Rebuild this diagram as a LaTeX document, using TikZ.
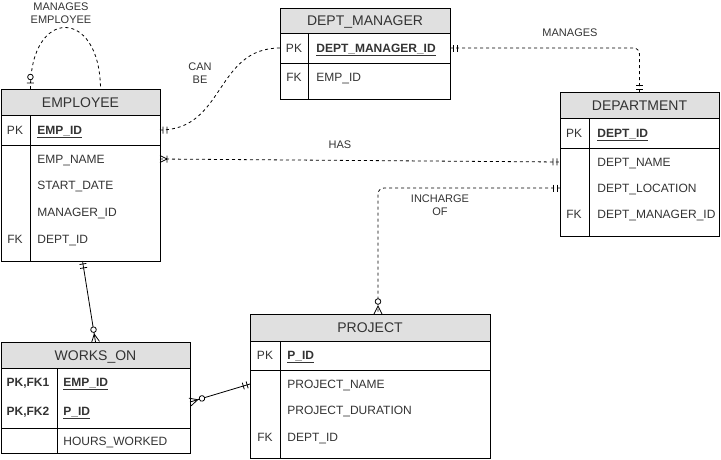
\documentclass[tikz,border=0pt]{standalone}
\usepackage{fontspec}
\setmainfont{Liberation Sans}
\usetikzlibrary{positioning,decorations.markings}
\definecolor{hdrgray}{HTML}{E0E0E0}
\definecolor{txtgray}{HTML}{333333}
\newcommand{\crowone}{\draw[solid] (-3pt,-3.5pt) -- (-3pt,3.5pt) (-7pt,-3.5pt) -- (-7pt,3.5pt);}
\newcommand{\crowzeroone}{\draw[solid] (-6pt,-3.5pt) -- (-6pt,3.5pt); \draw[solid,fill=white] (-12pt,0pt) circle (2.8pt);}
\newcommand{\crowonemany}{\draw[solid] (-7pt,0pt) -- (0pt,3.5pt) (-7pt,0pt) -- (0pt,-3.5pt) (-7pt,-3.5pt) -- (-7pt,3.5pt);}
\newcommand{\crowzeromany}{\draw[solid] (-8pt,0pt) -- (0pt,4pt) (-8pt,0pt) -- (0pt,-4pt); \draw[solid,fill=white] (-12.5pt,0pt) circle (2.8pt);}
\begin{document}
\begin{tikzpicture}[x=1pt,y=-1pt,line width=0.8pt,
  every node/.style={text=txtgray},
  hdr/.style={draw, rectangle, fill=hdrgray, outer sep=0pt, anchor=north west, text height=10pt, text depth=0pt, font=\fontsize{14}{16}\selectfont},
  tbl/.style={draw, rectangle, outer sep=0pt, anchor=north west},
  fld/.style={anchor=west, inner sep=0pt, text height=8.6pt, text depth=0pt, font=\fontsize{12}{14}\selectfont},
  key/.style={inner sep=0pt, text height=8.6pt, text depth=0pt, font=\fontsize{12}{14}\selectfont},
  lbl/.style={align=center, inner sep=0pt, font=\fontsize{11}{13}\selectfont},
  rel/.style={dash pattern=on 3pt off 3pt},
  erstart/.style={postaction={decorate,decoration={markings,mark=at position 0 with {\begin{scope}[xscale=-1]#1\end{scope}}}}},
  erend/.style={postaction={decorate,decoration={markings,mark=at position 1 with {#1}}}}]
\useasboundingbox (0,0) rectangle (721,459);
\node[hdr, minimum width=159pt, minimum height=26pt] (emp) at (1,89) {EMPLOYEE};
\node[tbl, minimum width=159pt, minimum height=30pt] (empk) at (1,115) {};
\node[tbl, minimum width=159pt, minimum height=116pt] (empbody) at (1,145) {};
\draw (30,115) -- (30,261);
\node[key] (emppk) at (15,130) {PK};
\node[fld] (empid) at (37,130) {\textbf{\underline{EMP\_ID}}};
\node[fld] (empname) at (37,159) {EMP\_NAME};
\node[fld] (empstart) at (37,185) {START\_DATE};
\node[fld] (empmgr) at (37,212) {MANAGER\_ID};
\node[key] (empfk) at (15,239) {FK};
\node[fld] (empdept) at (37,239) {DEPT\_ID};
\node[hdr, minimum width=170pt, minimum height=25pt] (dm) at (280,8) {DEPT\_MANAGER};
\node[tbl, minimum width=170pt, minimum height=30pt] (dmk) at (280,33) {};
\node[tbl, minimum width=170pt, minimum height=36pt] (dmbody) at (280,63) {};
\draw (308,33) -- (308,99);
\node[key] (dmpk) at (294,48) {PK};
\node[fld] (dmid) at (316,48) {\textbf{\underline{DEPT\_MANAGER\_ID}}};
\node[key] (dmfk) at (294,77) {FK};
\node[fld] (dmemp) at (316,77) {EMP\_ID};
\node[hdr, minimum width=159pt, minimum height=26pt] (dept) at (560,92) {DEPARTMENT};
\node[tbl, minimum width=159pt, minimum height=30pt] (deptk) at (560,118) {};
\node[tbl, minimum width=159pt, minimum height=88pt] (deptbody) at (560,148) {};
\draw (589,118) -- (589,236);
\node[key] (deptpk) at (574,133) {PK};
\node[fld] (deptid) at (597,133) {\textbf{\underline{DEPT\_ID}}};
\node[fld] (deptname) at (597,162) {DEPT\_NAME};
\node[fld] (deptloc) at (597,188) {DEPT\_LOCATION};
\node[key] (deptfk) at (574,214) {FK};
\node[fld] (deptmgr) at (597,214) {DEPT\_MANAGER\_ID};
\node[hdr, minimum width=240pt, minimum height=27pt] (proj) at (250,314) {PROJECT};
\node[tbl, minimum width=240pt, minimum height=29pt] (projk) at (250,341) {};
\node[tbl, minimum width=240pt, minimum height=88pt] (projbody) at (250,370) {};
\draw (280,341) -- (280,458);
\node[key] (projpk) at (265,355) {PK};
\node[fld] (projid) at (287,355) {\textbf{\underline{P\_ID}}};
\node[fld] (projname) at (287,384) {PROJECT\_NAME};
\node[fld] (projdur) at (287,410) {PROJECT\_DURATION};
\node[key] (projfk) at (265,437) {FK};
\node[fld] (projdept) at (287,437) {DEPT\_ID};
\node[hdr, minimum width=189pt, minimum height=26pt] (wo) at (1,342) {WORKS\_ON};
\node[tbl, minimum width=189pt, minimum height=60pt] (wopk) at (1,368) {};
\node[tbl, minimum width=189pt, minimum height=25pt] (wobody) at (1,428) {};
\draw (57,368) -- (57,453);
\node[key] (wokey1) at (28,382) {\textbf{PK,FK1}};
\node[fld] (woemp) at (63,382) {\textbf{\underline{EMP\_ID}}};
\node[key] (wokey2) at (28,411) {\textbf{PK,FK2}};
\node[fld] (woproj) at (63,411) {\textbf{\underline{P\_ID}}};
\node[fld] (wohours) at (63,441) {HOURS\_WORKED};
\draw[rel, erstart=\crowzeroone, erend=\crowzeromany] ([xshift=-50pt]emp.north) .. controls (30,7) and (100,7) .. ([xshift=20pt]emp.north);
\draw[rel, erstart=\crowone, erend=\crowzeroone] (empk.east) .. controls (225,130) and (215,48) .. (dmk.west);
\draw[rel, rounded corners=6pt, erstart=\crowone, erend=\crowone] (dmk.east) -| (dept.north);
\draw[rel, erstart=\crowonemany, erend=\crowone] (empbody.east |- empname) -- (deptbody.west |- deptname);
\draw[rel, rounded corners=6pt, erstart=\crowone, erend=\crowzeromany] (deptbody.west |- deptloc) -| ([xshift=8pt]proj.north);
\draw[erstart=\crowone, erend=\crowzeromany] ([xshift=2pt]empbody.south) -- (wo.north);
\draw[erstart=\crowzeromany, erend=\crowone] ([yshift=-4pt]wopk.east) -- (projbody.west |- projname);
\node[lbl] (mgremp) at (61,13) {MANAGES\\EMPLOYEE};
\node[lbl] (canbe) at (200,73) {CAN\\BE};
\node[lbl] (manages) at (570,33) {MANAGES};
\node[lbl] (has) at (340,145) {HAS};
\node[lbl] (incharge) at (440,205) {INCHARGE\\OF};
\end{tikzpicture}
\end{document}
